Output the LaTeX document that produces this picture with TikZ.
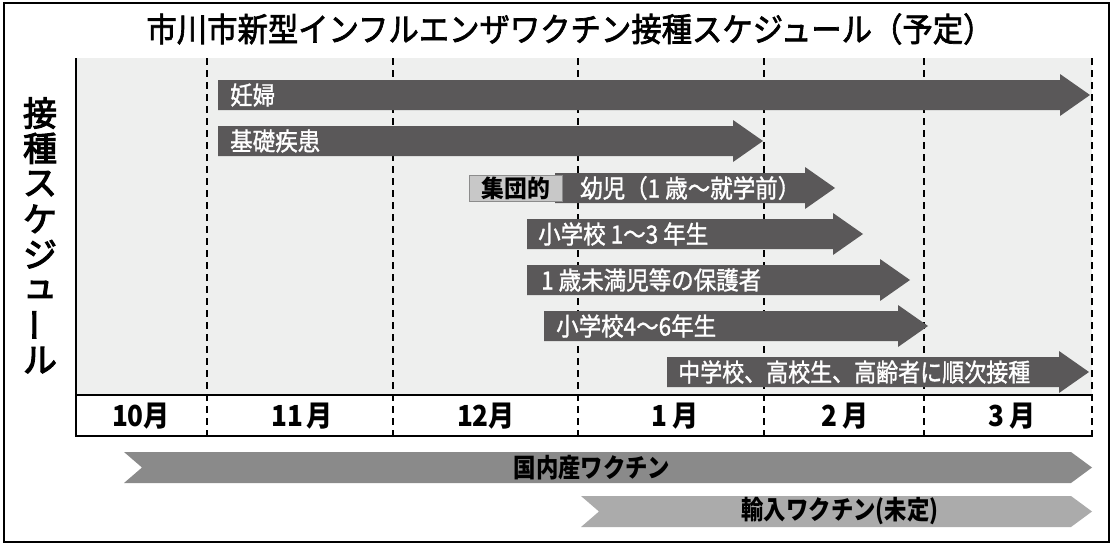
\documentclass[tikz,border=0pt]{standalone}
\usepackage{fontspec}
\usepackage{graphicx}
\newfontfamily\jp{Noto Sans CJK JP}
\definecolor{bargray}{HTML}{5A5859}
\definecolor{bggray}{HTML}{EEEFEE}
\definecolor{boxgray}{HTML}{C8C8C8}
\definecolor{domgray}{HTML}{8A8A8A}
\definecolor{impgray}{HTML}{ABABAB}
\newcommand\sx[2][0.9]{\scalebox{#1}[1]{#2}}
% slightly heavier text: fill and stroke the glyphs
\newcommand\heavy[2][0.6]{\special{pdf:literal 2 Tr #1 w}#2\special{pdf:literal 0 Tr}}
% dark schedule arrow: start x, tip x, centre y
\newcommand\darrow[3]{%
  \fill[bargray] (#1,#3-15) -- (#2-30,#3-15) -- (#2-30,#3-21) -- (#2,#3)
    -- (#2-30,#3+21) -- (#2-30,#3+15) -- (#1,#3+15) -- cycle;}
% chevron band: left x, tip x, centre y, colour
\newcommand\chev[4]{%
  \fill[#4] (#1,#3-15.5) -- (#2-21,#3-15.5) -- (#2,#3) -- (#2-21,#3+15.5)
    -- (#1,#3+15.5) -- (#1+18,#3) -- cycle;}
\begin{document}
\begin{tikzpicture}[x=1pt,y=-1pt,
  lbl/.style={anchor=west,inner sep=0pt,text=white,font=\jp\fontsize{25}{28}\selectfont},
  month/.style={inner sep=0pt,font=\jp\bfseries\fontsize{29}{32}\selectfont},
  vtxt/.style={inner sep=0pt,font=\jp\fontsize{34}{36}\selectfont},
  band/.style={inner sep=0pt,font=\jp\bfseries\fontsize{26}{28}\selectfont},
  gridline/.style={line width=1.4pt,dash pattern=on 7pt off 5pt},
  solidline/.style={line width=1.8pt}]
\useasboundingbox (0,0) rectangle (1113,547);
\fill[white] (0,0) rectangle (1113,547);
\draw[line width=2.5pt] (4,3) rectangle (1109,542);
% title
\node[inner sep=0pt,font=\jp\fontsize{33}{36}\selectfont] (title) at (570,29)
  {\sx[0.92]{\heavy[0.7]{市川市新型インフルエンザワクチン接種スケジュール（予定）}}};
% vertical label
\foreach \c [count=\i from 0] in {接,種,ス,ケ,ジ,ュ}
  \node[vtxt] (v\i) at (40,{113+35.3*\i}) {\heavy[1.1]{\c}};
\node[vtxt] (v6) at (40,{113+35.3*6}) {\rotatebox{90}{\heavy[1.1]{ー}}};
\node[vtxt] (v7) at (40,{113+35.3*7}) {\heavy[1.1]{ル}};
% chart background
\fill[bggray] (76,58) rectangle (1092,395);
\foreach \x in {207,393,578,764,924,1092}
  \draw[gridline] (\x,58) -- (\x,436);
\draw[solidline] (76,58) -- (76,436);
\draw[solidline] (75,395) -- (1092,395);
\draw[solidline] (75,436) -- (1093,436);
% months
\node[month] (m10) at (141,416) {\sx{10月}};
\node[month] (m11) at (302,416) {\sx{11\hspace{3pt}月}};
\node[month] (m12) at (486,416) {\sx{12月}};
\node[month] (m1) at (675,416) {\sx{1\hspace{5pt}月}};
\node[month] (m2) at (845,416) {\sx{2\hspace{5pt}月}};
\node[month] (m3) at (1012,416) {\sx{3\hspace{5pt}月}};
% schedule arrows
\darrow{218}{1090}{95}
\node[lbl] (a1) at (230,95) {\sx{\heavy[0.35]{妊婦}}};
\darrow{218}{763}{141}
\node[lbl] (a2) at (230,141) {\sx{\heavy[0.35]{基礎疾患}}};
\darrow{555}{835}{188}
\node[draw=black!45,line width=0.8pt,fill=boxgray,anchor=west,inner sep=0pt,
  minimum width=93pt,minimum height=26pt,
  font=\jp\bfseries\fontsize{24}{26}\selectfont] (grp) at (469,188) {\sx[0.95]{集団的}};
\node[lbl] (a3) at (580,188) {\sx{\heavy[0.35]{幼児（1 歳〜就学前）}}};
\darrow{527}{863}{234}
\node[lbl] (a4) at (538,234) {\sx{\heavy[0.35]{小学校 1〜3 年生}}};
\darrow{527}{910}{280}
\node[lbl] (a5) at (541,280) {\sx{\heavy[0.35]{1 歳未満児等の保護者}}};
\darrow{544}{928}{326}
\node[lbl] (a6) at (556,326) {\sx{\heavy[0.35]{小学校4〜6年生}}};
\darrow{667}{1089}{372}
\node[lbl] (a7) at (678,372) {\sx[0.88]{\heavy[0.35]{中学校、高校生、高齢者に順次接種}}};
% vaccine supply bands
\chev{124}{1092}{467.5}{domgray}
\node[band] (dom) at (592,467.5) {\sx[0.86]{国内産ワクチン}};
\chev{581}{1092}{511.5}{impgray}
\node[band] (imp) at (840,511.5) {\sx[0.86]{輸入ワクチン(未定)}};
\end{tikzpicture}
\end{document}
